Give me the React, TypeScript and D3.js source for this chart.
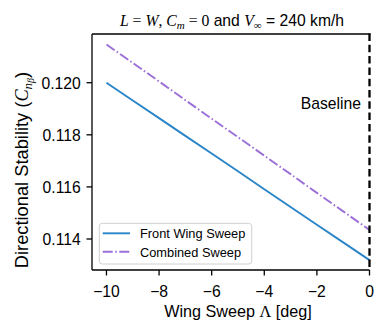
import React from "react";
import * as d3 from "d3";

const sweep = [-10, -9, -8, -7, -6, -5, -4, -3, -2, -1, 0];
const frontWing = [0.12, 0.11932, 0.11864, 0.11796, 0.11728, 0.1166, 0.11591, 0.11523, 0.11455, 0.11387, 0.11319];
const combined = [0.12147, 0.12076, 0.12005, 0.11933, 0.11862, 0.11791, 0.1172, 0.11649, 0.11577, 0.11506, 0.11435];
const xTicks = [-10, -8, -6, -4, -2, 0];
const yTicks = [0.114, 0.116, 0.118, 0.12];
const seriesNames = ["Front Wing Sweep", "Combined Sweep"];
const baselineX = 0;

const W = 376, H = 320;
const L = 92, R = 369.5, T = 34, B = 270;
const SANS = "'Liberation Sans', Arial, sans-serif";
const SERIF = "'Liberation Serif', 'Times New Roman', serif";
const BLUE = "#2a85c8";
const PURPLE = "#9b6fd8";

export default function App() {
  const x = d3.scaleLinear().domain([-10.55, 0]).range([L, R]);
  const y = d3.scaleLinear().domain([0.11281, 0.12187]).range([B, T]);
  const line = d3
    .line<number>()
    .x((_, i) => x(sweep[i]))
    .y((d) => y(d));
  const fs = 15.7;
  const yfs = 18.3;
  return (
    <svg width={W} height={H} style={{ position: "absolute", left: 0, top: 0, background: "#fff" }}>
      {/* title */}
      <text x={232} y={25.5} textAnchor="middle" fontSize={fs} fontFamily={SANS} fill="#000">
        <tspan fontFamily={SERIF} fontStyle="italic">L</tspan>
        <tspan fontFamily={SERIF} fill="#333"> = </tspan>
        <tspan fontFamily={SERIF} fontStyle="italic">W</tspan>
        <tspan fontFamily={SERIF}>, </tspan>
        <tspan fontFamily={SERIF} fontStyle="italic">C</tspan>
        <tspan fontFamily={SERIF} fontStyle="italic" fontSize={11} dy={3}>m</tspan>
        <tspan fontFamily={SERIF} fill="#333" dy={-3}> = </tspan>
        <tspan fontFamily={SERIF}>0</tspan>
        <tspan> and </tspan>
        <tspan fontFamily={SERIF} fontStyle="italic">V</tspan>
        <tspan fontFamily={SERIF} fontSize={11} dy={3}>∞</tspan>
        <tspan dy={-3}> = 240 km/h</tspan>
      </text>

      {/* lines */}
      <path d={line(frontWing) || ""} fill="none" stroke={BLUE} strokeWidth={1.9} />
      <path
        d={line(combined) || ""}
        fill="none"
        stroke={PURPLE}
        strokeWidth={1.9}
        strokeDasharray="10,2.5,1.6,2.5"
      />

      {/* spines */}
      <line x1={L} x2={L} y1={T} y2={B} stroke="#000" strokeWidth={1.3} />
      <line x1={L} x2={R} y1={B} y2={B} stroke="#000" strokeWidth={1.3} />
      <line x1={L} x2={R + 1} y1={T} y2={T} stroke="#000" strokeWidth={1.3} />

      {/* baseline */}
      <line
        x1={x(baselineX)}
        x2={x(baselineX)}
        y1={T - 0.5}
        y2={B + 0.6}
        stroke="#000"
        strokeWidth={2.3}
        strokeDasharray="7.5,3.8"
      />
      <text x={361} y={109} textAnchor="end" fontSize={fs} fontFamily={SANS}>
        Baseline
      </text>

      {/* x ticks */}
      {xTicks.map((t) => (
        <g key={t}>
          <line x1={x(t)} x2={x(t)} y1={B} y2={B + 5.5} stroke="#000" strokeWidth={1.3} />
          <text x={x(t)} y={296.5} textAnchor="middle" fontSize={fs} fontFamily={SANS}>
            {t < 0 ? "\u2212" + Math.abs(t) : String(t)}
          </text>
        </g>
      ))}
      {/* y ticks */}
      {yTicks.map((t) => (
        <g key={t}>
          <line x1={L - 5.5} x2={L} y1={y(t)} y2={y(t)} stroke="#000" strokeWidth={1.3} />
          <text x={80.7} y={y(t) + 6.4} textAnchor="end" fontSize={fs} fontFamily={SANS}>
            {t.toFixed(3)}
          </text>
        </g>
      ))}

      {/* axis labels */}
      <text x={238} y={316.5} textAnchor="middle" fontSize={16.2} fontFamily={SANS}>
        Wing Sweep <tspan fontFamily={SERIF}>Λ</tspan> [deg]
      </text>
      <text
        transform={`translate(28,170) rotate(-90)`}
        textAnchor="middle"
        fontSize={yfs}
        fontFamily={SANS}
      >
        Directional Stability (<tspan fontFamily={SERIF} fontStyle="italic">C</tspan>
        <tspan fontFamily={SERIF} fontStyle="italic" fontSize={13} dy={3.5}>n</tspan>
        <tspan fontFamily={SERIF} fontStyle="italic" fontSize={10} dy={2.5}>β</tspan>
        <tspan dy={-6}>)</tspan>
      </text>

      {/* legend */}
      <rect x={99.3} y={223.3} width={152.4} height={40.7} rx={3} fill="#fff" fillOpacity={0.8} stroke="#d0d0d0" strokeWidth={1} />
      <line x1={102.7} x2={130} y1={233.3} y2={233.3} stroke={BLUE} strokeWidth={1.9} />
      <line x1={102.7} x2={130} y1={251.7} y2={251.7} stroke={PURPLE} strokeWidth={1.9} strokeDasharray="10,2.5,1.6,2.5" />
      <text x={140} y={238.3} fontSize={12.8} fontFamily={SANS}>{seriesNames[0]}</text>
      <text x={140} y={256.8} fontSize={12.8} fontFamily={SANS}>{seriesNames[1]}</text>
    </svg>
  );
}
